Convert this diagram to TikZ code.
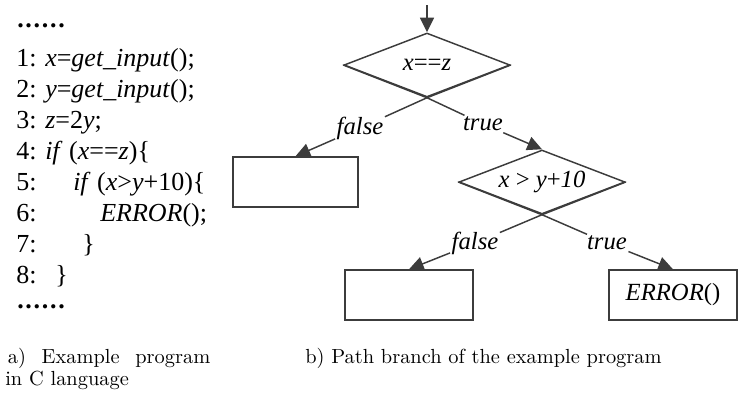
\documentclass[tikz,border=0pt]{standalone}
\usepackage{fontspec}
\newfontfamily\tnr{Liberation Serif}
\newfontfamily\capfont{lmroman10-regular.otf}
\usetikzlibrary{positioning,arrows.meta,shapes.geometric}
\definecolor{lc}{HTML}{3C3C3C}
\newcommand{\dotrow}{\textbf{.\kern1.3pt.\kern1.3pt.\kern1.3pt.\kern1.3pt.\kern1.3pt.}}

\begin{document}
\begin{tikzpicture}[x=0.75pt,y=-0.75pt,>={Triangle[length=11pt,width=10.5pt]},
  every node/.style={inner sep=0pt},
  code/.style={font=\tnr\fontsize{19.5}{23}\selectfont,anchor=base west},
  dia/.style={diamond,draw=lc,line width=1.1pt,shape aspect=2.6,
    minimum width=166*0.75pt,minimum height=64*0.75pt,font=\tnr\fontsize{18.5}{22}\selectfont},
  blk/.style={draw=lc,line width=1.1pt,minimum height=50*0.75pt,font=\tnr\fontsize{18.5}{22}\selectfont},
  lab/.style={font=\tnr\itshape\fontsize{18.5}{22}\selectfont,inner sep=1pt},
  ln/.style={draw=lc,line width=1.1pt},
  captxt/.style={font=\capfont\fontsize{15.3}{16.5}\selectfont,anchor=base west}]
  \useasboundingbox (0,0) rectangle (740,394);
  % a) program
  \node[code] (dtop) at (17,27) {\dotrow};
  \foreach \n/\xx/\txt in {1/45/{\textit{x}=\textit{get\_input}();},
      2/45/{\textit{y}=\textit{get\_input}();},
      3/45/{\textit{z}=2\textit{y};},
      4/45/{\textit{if} (\textit{x}==\textit{z})\{},
      5/73/{\textit{if} (\textit{x}>\textit{y}+10)\{},
      6/100/{\textit{ERROR}();},
      7/82/{\}},
      8/55/{\}}}{
    \node[code] (n\n) at (16,{66+31*(\n-1)}) {\n:};
    \node[code] (c\n) at (\xx,{66+31*(\n-1)}) {\txt};
  }
  \node[code] (dbot) at (17,308) {\dotrow};
  % b) branches
  \coordinate (in) at (427,5);
  \node[dia] (d1) at (427,65) {\textit{x}==\textit{z}};
  \node[dia] (d2) at (542,182) {\textit{x} > \textit{y}+\textit{10}};
  \node[blk,minimum width=125*0.75pt] (b1) at (295.5,182) {};
  \node[blk,minimum width=128*0.75pt] (b2) at (409,295) {};
  \node[blk,minimum width=128*0.75pt] (b3) at (673,295) {\textit{ERROR}()};
  \node[lab] (f1) at (360,128) {false};
  \node[lab] (t1) at (483,124) {true};
  \node[lab] (f2) at (475,243) {false};
  \node[lab] (t2) at (607,243) {true};
  \draw[ln,->] (in) -- (d1.north);
  \draw[ln] (d1.east) -- (d1.south) -- (f1);
  \draw[ln] (d1.west) -- (d1.south) -- (t1);
  \draw[ln,->] (f1) -- (b1.north);
  \draw[ln,->] (t1) -- (d2.north);
  \draw[ln] (d2.east) -- (d2.south) -- (f2);
  \draw[ln] (d2.west) -- (d2.south) -- (t2);
  \draw[ln,->] (f2) -- (b2.north);
  \draw[ln,->] (t2) -- (b3.north);
  % captions
  \node[captxt,text width=153.75pt,align=left] (ca) at (5,363) {\hspace*{2pt}a)\hfill Example\hfill program\\in C language};
  \node[captxt] (cb) at (305,363) {b)\ Path branch of the example program};
\end{tikzpicture}
\end{document}
